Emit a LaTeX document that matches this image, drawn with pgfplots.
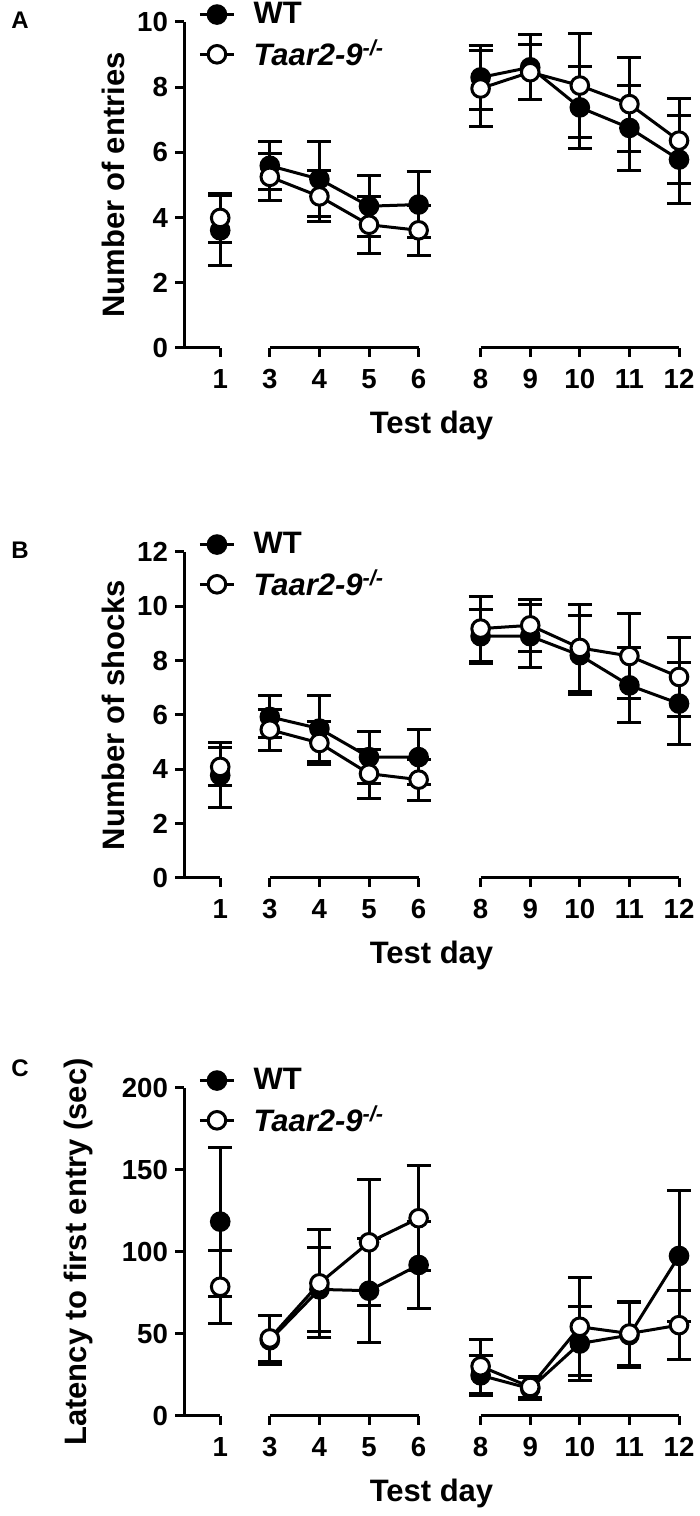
\documentclass[border=0pt]{standalone}
\usepackage{pgfplots}
\pgfplotsset{compat=1.18}
\usepackage{pgfplotstable}
\usepackage{fontspec}
\setmainfont{Liberation Sans}
\newcommand\lf{\fontsize{15.5}{20}\selectfont\bfseries}
\newcommand\tf{\fontsize{13.8}{16}\selectfont\bfseries}

% pos y err  (pos: 1=day1, 2..5=days3-6, 6.25..10.25=days 8-12)
\pgfplotstableread{
pos y err
1 3.61 1.08
2 5.59 0.73
3 5.18 1.14
4 4.35 0.94
5 4.40 1.00
6.25 8.30 0.97
7.25 8.61 1.00
8.25 7.38 1.25
9.25 6.75 1.30
10.25 5.78 1.35
}\AWT
\pgfplotstableread{
pos y err
1 3.99 0.75
2 5.25 0.72
3 4.65 0.78
4 3.78 0.88
5 3.61 0.77
6.25 7.96 1.18
7.25 8.46 0.85
8.25 8.05 1.60
9.25 7.48 1.44
10.25 6.36 1.30
}\AKO
\pgfplotstableread{
pos y err
1 3.78 1.20
2 5.93 0.77
3 5.50 1.22
4 4.45 0.96
5 4.45 1.01
6.25 8.90 1.00
7.25 8.90 1.15
8.25 8.20 1.45
9.25 7.09 1.38
10.25 6.42 1.52
}\BWT
\pgfplotstableread{
pos y err
1 4.09 0.70
2 5.46 0.75
3 4.97 0.80
4 3.84 0.90
5 3.62 0.76
6.25 9.18 1.20
7.25 9.30 0.95
8.25 8.47 1.60
9.25 8.17 1.56
10.25 7.40 1.47
}\BKO
\pgfplotstableread{
pos y err
1 118.5 45.5
2 46.2 15
3 77.2 25.5
4 76.4 31.6
5 92.1 26.5
6.25 24.8 12
7.25 16.7 6.5
8.25 44.2 22.8
9.25 49.3 19.8
10.25 97.6 40
}\CWT
\pgfplotstableread{
pos y err
1 78.8 22.4
2 47.3 14
3 80.9 33
4 105.9 38.5
5 120.6 32
6.25 30.3 16.5
7.25 17.7 6.5
8.25 54.4 30
9.25 50.3 19.8
10.25 55.4 21
}\CKO

\pgfplotsset{
  wtline/.style={black, line width=1.5pt, mark=*, mark size=4.4pt,
    mark options={fill=black, draw=black, line width=1.5pt, solid}},
  koline/.style={black, line width=1.5pt, mark=*, mark size=4.4pt,
    mark options={fill=white, draw=black, line width=1.5pt, solid}},
  ebar/.style={error bars/y dir=both, error bars/y explicit,
    error bars/error bar style={line width=1.5pt, black},
    error bars/error mark options={rotate=90, mark size=6pt, line width=1.5pt, black}},
  panel/.style={
    scale only axis, width=247.5pt, height=163pt,
    xmin=0.27, xmax=10.25, ymin=0, clip=false,
    axis y line*=left, axis x line*=bottom,
    x axis line style={draw=none},
    y axis line style={line width=1.5pt},
    tick align=outside, major tick length=4.5pt,
    every tick/.style={black, line width=1.5pt},
    xtick={1,2,3,4,5,6.25,7.25,8.25,9.25,10.25},
    xticklabels={1,3,4,5,6,8,9,10,11,12},
    /pgf/number format/assume math mode=true,
    tick label style={font=\tf},
    xticklabel style={anchor=center, yshift=-11pt},
    label style={font=\lf},
    xlabel={Test day},
    xlabel style={at={(axis description cs:0.5,0)}, anchor=center, yshift=-38.5pt},
    legend style={at={(axis description cs:0,1)}, anchor=north west,
      xshift=4pt, yshift=14pt, draw=none, fill=none, font=\lf,
      row sep=2.5pt, column sep=7pt},
    legend cell align=left,
  },
}

\newcommand\segs{%
  \addplot[black, line width=1.5pt, mark=none, forget plot] coordinates {(0.27,0) (1,0)};
  \addplot[black, line width=1.5pt, mark=none, forget plot] coordinates {(2,0) (5,0)};
  \addplot[black, line width=1.5pt, mark=none, forget plot] coordinates {(6.25,0) (10.25,0)};
}
\newcommand\series[2]{%
  \addplot[#2, forget plot, restrict x to domain=0:1.5, ebar] table[x=pos, y=y, y error=err] {#1};
  \addplot[#2, forget plot, restrict x to domain=1.5:5.5, ebar] table[x=pos, y=y, y error=err] {#1};
  \addplot[#2, forget plot, restrict x to domain=5.5:11, ebar] table[x=pos, y=y, y error=err] {#1};
}
\newcommand\legs{%
  \addlegendimage{wtline}\addlegendentry{WT}
  \addlegendimage{koline}\addlegendentry{\textit{Taar2-9}\textsuperscript{\textit{-/-}}}
}

\begin{document}
\begin{tikzpicture}
\path[use as bounding box] (0,0) rectangle (350pt,758pt);
\node[font=\fontsize{12}{14}\selectfont\bfseries] at (10pt,748pt) {A};
\node[font=\fontsize{12}{14}\selectfont\bfseries] at (10pt,483pt) {B};
\node[font=\fontsize{12}{14}\selectfont\bfseries] at (10pt,224pt) {C};

\begin{axis}[panel, at={(92pt,584pt)}, anchor=south west,
  ymax=10, ytick={0,2,4,6,8,10}, ylabel={Number of entries},
  ylabel style={at={(axis description cs:-0.143,0.5)}, anchor=center}]
\segs
\legs
\series{\AWT}{wtline}
\series{\AKO}{koline}
\end{axis}

\begin{axis}[panel, at={(92pt,319pt)}, anchor=south west,
  ymax=12, ytick={0,2,4,6,8,10,12}, ylabel={Number of shocks},
  ylabel style={at={(axis description cs:-0.143,0.5)}, anchor=center}]
\segs
\legs
\series{\BWT}{wtline}
\series{\BKO}{koline}
\end{axis}

\begin{axis}[panel, at={(92pt,50pt)}, anchor=south west, height=164pt,
  ymax=200, ytick={0,50,100,150,200}, ylabel={Latency to first entry (sec)},
  ylabel style={at={(axis description cs:-0.214,0.5)}, anchor=center}]
\segs
\legs
\series{\CWT}{wtline}
\series{\CKO}{koline}
\end{axis}
\end{tikzpicture}
\end{document}
